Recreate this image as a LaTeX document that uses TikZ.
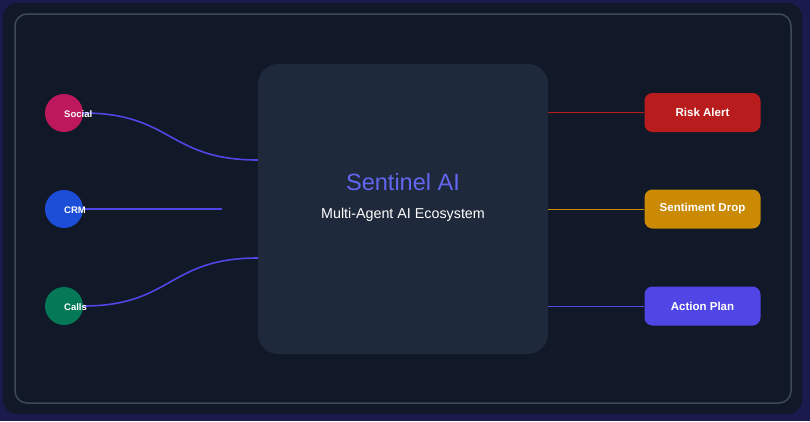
\documentclass[tikz,border=0pt]{standalone}
\usepackage{fontspec}
\setmainfont{Liberation Sans}
\usepackage{tikz}
\usetikzlibrary{positioning}

\definecolor{pagebg}{HTML}{1A1A4C}
\definecolor{panelbg}{HTML}{111827}
\definecolor{panelline}{HTML}{3E4A5C}
\definecolor{corebg}{HTML}{1E293B}
\definecolor{flow}{HTML}{4F46E5}
\definecolor{brand}{HTML}{6366F1}
\definecolor{socialc}{HTML}{BE185D}
\definecolor{crmc}{HTML}{1D4ED8}
\definecolor{callsc}{HTML}{047857}
\definecolor{riskc}{HTML}{B91C1C}
\definecolor{dropc}{HTML}{CA8A04}

\begin{document}
\begin{tikzpicture}[x=1pt, y=-1pt,
	source/.style={circle, minimum size=38pt, inner sep=0pt},
	srclabel/.style={anchor=west, inner sep=0pt, yshift=-1pt, text=white, font=\fontsize{9.5}{10}\selectfont\bfseries},
	outbox/.style={rounded corners=8pt, minimum width=116pt, minimum height=39pt, inner sep=0pt, text=white, font=\fontsize{11.5}{12}\selectfont\bfseries},
	feed/.style={flow, line width=1.6pt},
	tap/.style={line width=1pt}]
	\fill[pagebg] (0, 0) rectangle (810, 421);
	\fill[panelbg, rounded corners=14pt] (3, 3) rectangle (802, 414);
	\draw[panelline, line width=1.5pt, rounded corners=12pt] (15, 14) rectangle (791, 403);
	\useasboundingbox (0, 0) rectangle (810, 421);

	\node[fill=corebg, rounded corners=20pt, minimum width=290pt, minimum height=290pt] (core) at (403, 209) {};
	\node[text=brand, font=\fontsize{23.5}{26}\selectfont] (title) at (403, 182) {Sentinel AI};
	\node[text=white, font=\fontsize{14.3}{16}\selectfont] (subtitle) at (403, 215) {Multi-Agent AI Ecosystem};

	\node[source, fill=socialc] (social) at (64, 113) {};
	\node[source, fill=crmc] (crm) at (64, 209) {};
	\node[source, fill=callsc] (calls) at (64, 306) {};
	\coordinate (crmend) at (222, 209);

	\draw[feed] (social.east) .. controls (172, 113) and (168, 160) .. ([yshift=49pt]core.west);
	\draw[feed] (crm.east) -- (crmend);
	\draw[feed] (calls.east) .. controls (172, 306) and (168, 258) .. ([yshift=-49pt]core.west);

	\node[srclabel] at (social.center) {Social};
	\node[srclabel] at (crm.center) {CRM};
	\node[srclabel] at (calls.center) {Calls};

	\node[outbox, fill=riskc] (risk) at (702.5, 112.5) {\raisebox{-1pt}{Risk Alert}};
	\node[outbox, fill=dropc] (drop) at (702.5, 209) {\raisebox{-1pt}{Sentiment Drop}};
	\node[outbox, fill=flow] (plan) at (702.5, 306) {\raisebox{-1pt}{Action Plan}};

	\draw[tap, riskc] (risk.west -| core.east) -- (risk.west);
	\draw[tap, dropc] (drop.west -| core.east) -- (drop.west);
	\draw[tap, flow] (plan.west -| core.east) -- (plan.west);
\end{tikzpicture}
\end{document}
